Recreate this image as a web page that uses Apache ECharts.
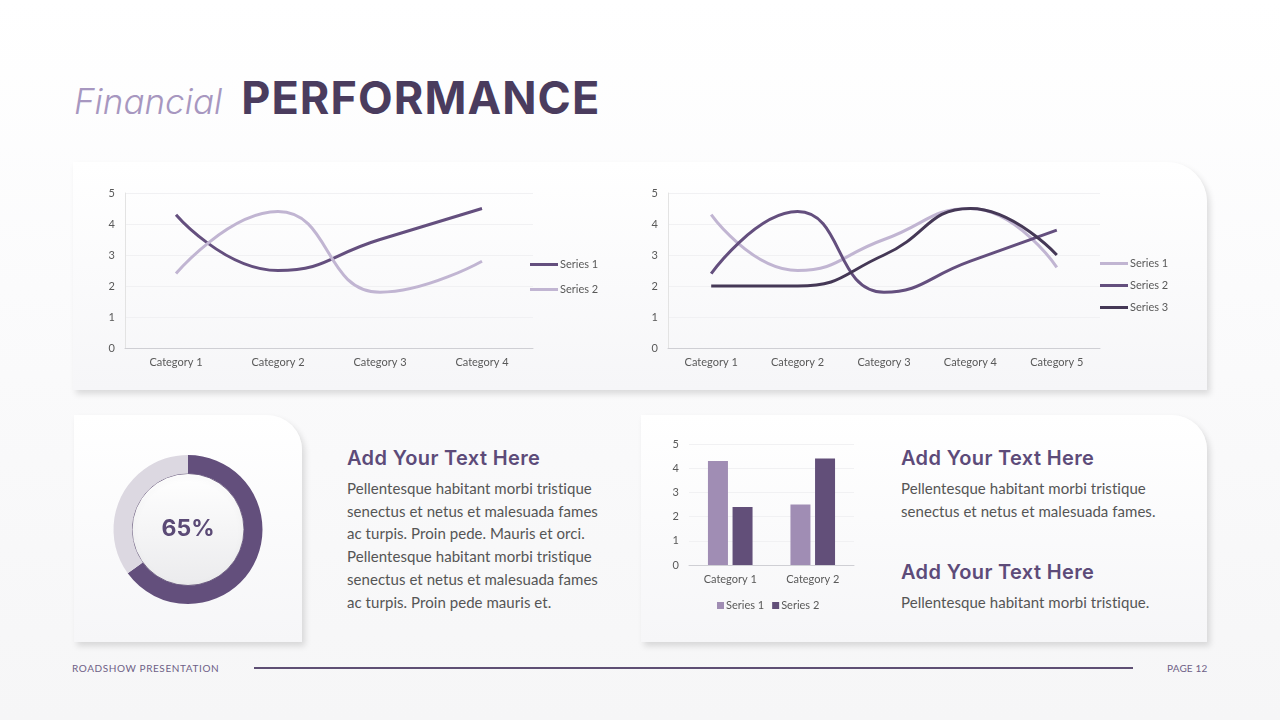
<!DOCTYPE html>
<html>
<head>
<meta charset="utf-8">
<script src="https://cdn.jsdelivr.net/npm/echarts@6/dist/echarts.min.js"></script>
<style>
  html, body { margin:0; padding:0; }
  body { width:1280px; height:720px; position:relative; overflow:hidden;
    background: linear-gradient(#ffffff 0%, #fbfbfc 40%, #f6f6f7 100%);
    font-family: Lato, "Noto Sans", sans-serif; }
  .card { position:absolute; background: linear-gradient(#ffffff 0%, #f6f6f8 100%);
    box-shadow: 3px 4px 6px rgba(0,0,0,0.13); }
  .title { position:absolute; left:74px; top:70px; white-space:nowrap; }
  .fin { font-family: Inter, Lato, sans-serif; font-style: italic; font-weight:300; font-size:35px; color:#a797c0; }
  .perf { font-family: Inter, Lato, sans-serif; font-weight:700; font-size:45px; color:#4a3c5e; margin-left:19px; letter-spacing:1.1px; }
  .h { position:absolute; font-family: Inter, Lato, sans-serif; font-weight:600; font-size:20px; color:#5d4b79; line-height:24px; white-space:nowrap; letter-spacing:0.35px; }
  .p { position:absolute; font-family: Lato, sans-serif; font-size:15px; color:#555555; line-height:22.7px; white-space:nowrap; letter-spacing:0.05px; }
  .foot { position:absolute; font-family: Lato, sans-serif; font-size:10px; color:#6e5f86; top:662px; letter-spacing:0.6px; }
  #chart { position:absolute; left:0; top:0; width:1280px; height:720px; }
</style>
</head>
<body>
<div class="card" style="left:73px; top:162px; width:1134px; height:228px; border-top-right-radius:40px;"></div>
<div class="card" style="left:74px; top:415px; width:228px; height:227px; border-top-right-radius:35px;"></div>
<div class="card" style="left:641px; top:415px; width:566px; height:227px; border-top-right-radius:35px;"></div>

<div class="title"><span class="fin">Financial</span><span class="perf">PERFORMANCE</span></div>

<div class="h" style="left:347px; top:446px;">Add Your Text Here</div>
<div class="p" style="left:347px; top:477px;">Pellentesque habitant morbi tristique<br>senectus et netus et malesuada fames<br>ac turpis. Proin pede. Mauris et orci.<br>Pellentesque habitant morbi tristique<br>senectus et netus et malesuada fames<br>ac turpis. Proin pede mauris et.</div>

<div class="h" style="left:901px; top:446px;">Add Your Text Here</div>
<div class="p" style="left:901px; top:477px;">Pellentesque habitant morbi tristique<br>senectus et netus et malesuada fames.</div>
<div class="h" style="left:901px; top:560px;">Add Your Text Here</div>
<div class="p" style="left:901px; top:591px;">Pellentesque habitant morbi tristique.</div>

<div class="foot" style="left:72px;">ROADSHOW PRESENTATION</div>
<div style="position:absolute; left:254px; top:667px; width:879px; height:1.5px; background:#5e4f74;"></div>
<div class="foot" style="left:1167px; letter-spacing:0.15px;">PAGE 12</div>

<div id="chart"></div>
<script>
// ---- data ----
const cats1 = ['Category 1', 'Category 2', 'Category 3', 'Category 4'];
const c1Series1 = [4.3, 2.5, 3.5, 4.5];
const c1Series2 = [2.4, 4.4, 1.8, 2.8];

const cats2 = ['Category 1', 'Category 2', 'Category 3', 'Category 4', 'Category 5'];
const c2Series1 = [4.3, 2.5, 3.5, 4.5, 2.6];
const c2Series2 = [2.4, 4.4, 1.8, 2.8, 3.8];
const c2Series3 = [2, 2, 3, 4.5, 3];

const barCats = ['Category 1', 'Category 2'];
const barSeries1 = [4.3, 2.5];
const barSeries2 = [2.4, 4.4];

const donutValue = 65;

const yTicks = [0, 1, 2, 3, 4, 5];

// ---- styles ----
const LIGHT = '#c1b5d2';
const MID = '#644f7e';
const DARK = '#453856';
const labelFont = { color:'#595959', fontSize:11, fontFamily:'Lato, sans-serif' };

function yAxis(idx) {
  return { gridIndex: idx, type:'value', min: yTicks[0], max: yTicks[yTicks.length-1], interval: 1,
    axisLabel: Object.assign({ margin: 10 }, labelFont),
    axisLine: { show: idx !== 2, lineStyle: { color:'#e3e3e3' } },
    axisTick: { show:false },
    splitLine: { lineStyle: { color:'#f1f1f3' } } };
}
function xAxis(idx, data) {
  return { gridIndex: idx, type:'category', data: data, boundaryGap: true,
    axisLabel: Object.assign({ margin: 9 }, labelFont),
    axisLine: { lineStyle: { color:'#cfcfd4' } },
    axisTick: { show:false } };
}
function line(name, data, color, idx) {
  return { name, type:'line', data, xAxisIndex: idx, yAxisIndex: idx, smooth: 0.5,
    symbol:'none', lineStyle: { width: 3, color }, itemStyle: { color } };
}
const legendText = Object.assign({}, labelFont, { fontSize:11, color:'#595959', padding:[0,0,0,-3] });

const chart = echarts.init(document.getElementById('chart'), null, { renderer:'canvas' });
chart.setOption({
  backgroundColor: 'transparent',
  animation: false,
  grid: [
    { left:125, top:193, width:408, height:155 },
    { left:668, top:193, width:432, height:155 },
    { left:689, top:444, width:165, height:121 }
  ],
  xAxis: [ xAxis(0, cats1), xAxis(1, cats2), xAxis(2, barCats) ],
  yAxis: [ yAxis(0), yAxis(1), yAxis(2) ],
  legend: [
    { data:['c1-Series 1','c1-Series 2'], left:530, top:259, orient:'vertical', padding:0,
      icon:'rect', itemWidth:28, itemHeight:3, itemGap:14, formatter: n => n.slice(3),
      textStyle: legendText },
    { data:['c2-Series 1','c2-Series 2','c2-Series 3'], left:1100, top:258, orient:'vertical', padding:0,
      icon:'rect', itemWidth:28, itemHeight:3, itemGap:11, formatter: n => n.slice(3),
      textStyle: legendText },
    { data:['b-Series 1','b-Series 2'], left:717, top:600, orient:'horizontal', padding:0,
      icon:'rect', itemWidth:7, itemHeight:7, itemGap:8, formatter: n => n.slice(2),
      textStyle: Object.assign({}, labelFont, { fontSize:11, padding:[0,0,0,-3] }) }
  ],
  series: [
    line('c1-Series 1', c1Series1, MID, 0),
    line('c1-Series 2', c1Series2, LIGHT, 0),
    line('c2-Series 1', c2Series1, LIGHT, 1),
    line('c2-Series 2', c2Series2, MID, 1),
    line('c2-Series 3', c2Series3, DARK, 1),
    { name:'b-Series 1', type:'bar', data: barSeries1, xAxisIndex:2, yAxisIndex:2,
      barWidth:20, barGap:'23%', itemStyle:{ color:'#a08db4' } },
    { name:'b-Series 2', type:'bar', data: barSeries2, xAxisIndex:2, yAxisIndex:2,
      barWidth:20, barGap:'23%', itemStyle:{ color:'#624f79' } },
    { type:'pie', radius:[0, 56], center:[188, 529.5], silent:true, z:1,
      label:{ show:false }, labelLine:{ show:false },
      data:[{ value:1, itemStyle:{
        color: new echarts.graphic.LinearGradient(0,0,0,1,[{offset:0,color:'#ffffff'},{offset:1,color:'#ebebed'}]),
        borderColor:'#5b4a70', borderWidth:0.8,
        shadowBlur:6, shadowColor:'rgba(0,0,0,0.15)', shadowOffsetY:2 } }] },
    { type:'pie', radius:[56, 74.5], center:[188, 529.5], startAngle:90, clockwise:true, silent:true, z:2,
      label:{ show:false }, labelLine:{ show:false },
      data:[
        { value: donutValue, itemStyle:{ color:'#634f7c' },
          label:{ show:true, position:'center', formatter: '{c}%', fontSize:23, fontWeight:700,
                  fontFamily:'Inter, Lato, sans-serif', color:'#5b4a76' } },
        { value: 100 - donutValue, itemStyle:{ color:'#dcd8e1' } }
      ] }
  ]
});
</script>
</body>
</html>
